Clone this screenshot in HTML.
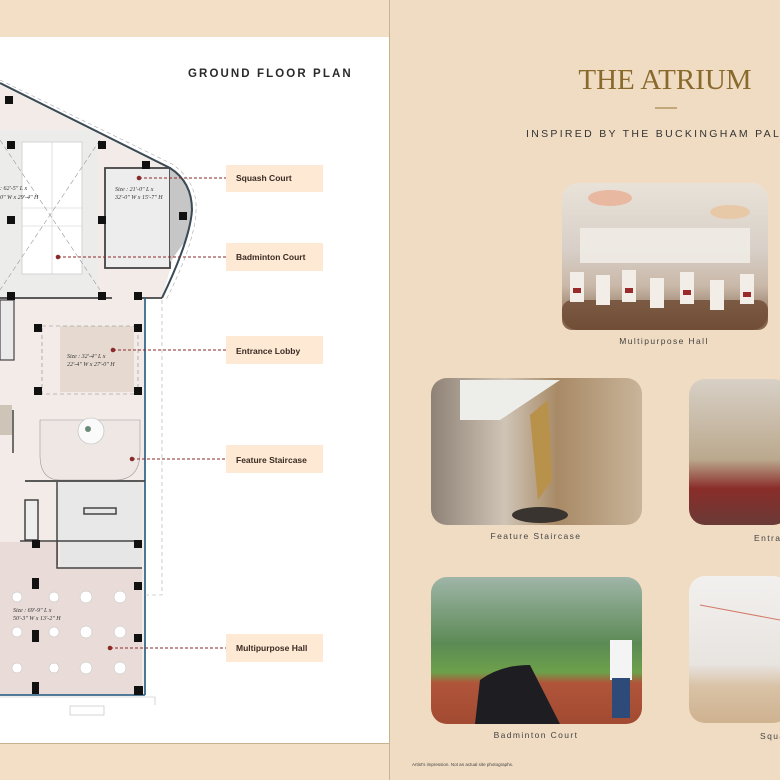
<!DOCTYPE html>
<html><head><meta charset="utf-8"><style>
html,body{margin:0;padding:0;width:780px;height:780px;overflow:hidden;background:#f1dec5}
svg{display:block}
.lbl{font-family:"Liberation Sans",sans-serif;font-size:8.5px;fill:#3a2a22;font-weight:bold}
.cap{font-family:"Liberation Sans",sans-serif;font-size:8.5px;fill:#444;letter-spacing:1.4px}
.sz{font-family:"Liberation Serif",serif;font-style:italic;font-size:6px;fill:#333}
</style></head><body>
<svg width="780" height="780" viewBox="0 0 780 780" xmlns="http://www.w3.org/2000/svg">
<defs>
<linearGradient id="hall" x1="0" y1="0" x2="0" y2="1"><stop offset="0" stop-color="#e9e2d8"/><stop offset="0.45" stop-color="#d8d0c8"/><stop offset="0.7" stop-color="#c9b8a8"/><stop offset="1" stop-color="#7a5a42"/></linearGradient>
<linearGradient id="stair" x1="0" y1="0" x2="1" y2="0"><stop offset="0" stop-color="#8e8276"/><stop offset="0.35" stop-color="#cfc4b6"/><stop offset="0.6" stop-color="#a88a66"/><stop offset="1" stop-color="#c9b49a"/></linearGradient>
<linearGradient id="badm" x1="0" y1="0" x2="0" y2="1"><stop offset="0" stop-color="#9fb5a8"/><stop offset="0.45" stop-color="#5c8a55"/><stop offset="0.65" stop-color="#6da04a"/><stop offset="0.72" stop-color="#b0553a"/><stop offset="1" stop-color="#a24a32"/></linearGradient>
<linearGradient id="entr" x1="0" y1="0" x2="0" y2="1"><stop offset="0" stop-color="#d8d0c6"/><stop offset="0.55" stop-color="#bba98e"/><stop offset="0.75" stop-color="#8a2d2a"/><stop offset="1" stop-color="#6a3a36"/></linearGradient>
<linearGradient id="squ" x1="0" y1="0" x2="0" y2="1"><stop offset="0" stop-color="#f2f0ee"/><stop offset="0.6" stop-color="#e8e4e0"/><stop offset="0.75" stop-color="#d9c2a6"/><stop offset="1" stop-color="#cfb290"/></linearGradient>
</defs>
<rect x="0" y="0" width="390" height="780" fill="#f3dfc6"/>
<rect x="0" y="37" width="389" height="707" fill="#ffffff"/>
<line x1="389.5" y1="0" x2="389.5" y2="780" stroke="#c9b290" stroke-width="1"/>
<line x1="0" y1="743.5" x2="389" y2="743.5" stroke="#c9b290" stroke-width="1"/>
<text x="188" y="77" font-family="Liberation Sans,sans-serif" font-size="11.5" font-weight="bold" letter-spacing="2.1" fill="#2a2a2a">GROUND FLOOR PLAN</text>

<g>
<polygon points="0,83 170,168 190,200 162,298 145,298 145,695 0,695" fill="#f3ebe8"/>
<rect x="0" y="130" width="98" height="168" fill="#ececea"/>
<rect x="22" y="142" width="60" height="132" fill="#fff" stroke="#ccc" stroke-width="0.8"/>
<line x1="52" y1="142" x2="52" y2="274" stroke="#ccc" stroke-width="0.6"/>
<line x1="22" y1="208" x2="82" y2="208" stroke="#ccc" stroke-width="0.6"/>
<line x1="22" y1="226" x2="82" y2="226" stroke="#ccc" stroke-width="0.6"/>
<line x1="0" y1="140" x2="100" y2="290" stroke="#999" stroke-width="0.6" stroke-dasharray="5,3"/>
<line x1="100" y1="140" x2="0" y2="290" stroke="#999" stroke-width="0.6" stroke-dasharray="5,3"/>
<rect x="105" y="168" width="65" height="100" fill="#ededed" stroke="#444" stroke-width="1.8"/>
<path d="M170,168 Q188,178 192,200 Q192,225 186,240 L170,262 Z" fill="#c6c6c6"/>
<path d="M0,83 L170,168 Q192,182 192,210 Q190,240 162,298" fill="none" stroke="#3a4a55" stroke-width="2"/>
<path d="M0,80 L172,164 Q198,182 196,212 Q194,245 166,300" fill="none" stroke="#aaa" stroke-width="0.6" stroke-dasharray="4,3"/>
<line x1="0" y1="298" x2="112" y2="298" stroke="#444" stroke-width="1.8"/>
<line x1="137" y1="298" x2="162" y2="298" stroke="#444" stroke-width="1.8"/>
<line x1="145" y1="298" x2="145" y2="695" stroke="#3a6a8a" stroke-width="1.8"/>
<polyline points="162,300 162,595 145,595" fill="none" stroke="#aaa" stroke-width="0.6" stroke-dasharray="4,3"/>
<rect x="0" y="300" width="14" height="60" fill="#eaeaea" stroke="#444" stroke-width="1.2"/>
<rect x="0" y="405" width="12" height="30" fill="#cfc4b8"/>
<line x1="13" y1="410" x2="13" y2="453" stroke="#444" stroke-width="1.5"/>
<rect x="60" y="326" width="74" height="66" fill="#e6dad0"/>
<rect x="42" y="326" width="96" height="68" fill="none" stroke="#888" stroke-width="0.6" stroke-dasharray="4,3"/>
<path d="M40,420 L140,420 L140,452 Q140,480 115,480 L60,480 Q40,480 40,455 Z" fill="#efe7e4" stroke="#999" stroke-width="0.6"/>
<circle cx="91" cy="431" r="13" fill="#fafafa" stroke="#bbb" stroke-width="0.6"/>
<circle cx="88" cy="429" r="3" fill="#6a8a78"/>
<line x1="25" y1="481" x2="145" y2="481" stroke="#444" stroke-width="1.8"/>
<rect x="57" y="482" width="85" height="60" fill="#e8e8e8"/>
<rect x="84" y="508" width="32" height="6" fill="none" stroke="#444" stroke-width="1.5"/>
<line x1="57" y1="482" x2="57" y2="565" stroke="#444" stroke-width="1.5"/>
<line x1="20" y1="541" x2="142" y2="541" stroke="#444" stroke-width="1.5"/>
<rect x="25" y="500" width="13" height="40" fill="#eee" stroke="#444" stroke-width="1.5"/>
<rect x="60" y="542" width="82" height="26" fill="#e6e6e6"/>
<polygon points="0,542 57,542 57,568 142,568 142,695 0,695" fill="#e9dcd8"/>
<polyline points="57,542 57,568 142,568" fill="none" stroke="#444" stroke-width="1.5"/>
<line x1="0" y1="695" x2="145" y2="695" stroke="#3a6a8a" stroke-width="1.8"/>
<polyline points="0,697 155,697 155,705" fill="none" stroke="#bbb" stroke-width="0.6"/>
<rect x="70" y="706" width="34" height="9" fill="none" stroke="#bbb" stroke-width="0.6"/>
<g fill="#fff" stroke="#bbb" stroke-width="0.5">
<circle cx="17" cy="597" r="5"/><circle cx="54" cy="597" r="5"/><circle cx="86" cy="597" r="6"/><circle cx="120" cy="597" r="6"/>
<circle cx="17" cy="632" r="5"/><circle cx="54" cy="632" r="5"/><circle cx="86" cy="632" r="6"/><circle cx="120" cy="632" r="6"/>
<circle cx="17" cy="668" r="5"/><circle cx="54" cy="668" r="5"/><circle cx="86" cy="668" r="6"/><circle cx="120" cy="668" r="6"/>
</g>
<g fill="#111">
<rect x="5" y="96" width="8" height="8"/><rect x="7" y="141" width="8" height="8"/><rect x="98" y="141" width="8" height="8"/><rect x="142" y="161" width="8" height="8"/>
<rect x="7" y="216" width="8" height="8"/><rect x="98" y="216" width="8" height="8"/><rect x="179" y="212" width="8" height="8"/>
<rect x="7" y="292" width="8" height="8"/><rect x="98" y="292" width="8" height="8"/><rect x="134" y="292" width="8" height="8"/>
<rect x="34" y="324" width="8" height="8"/><rect x="134" y="324" width="8" height="8"/><rect x="34" y="387" width="8" height="8"/><rect x="134" y="387" width="8" height="8"/>
<rect x="32" y="540" width="8" height="8"/><rect x="134" y="540" width="8" height="8"/><rect x="134" y="582" width="8" height="8"/>
<rect x="32" y="578" width="7" height="11"/><rect x="32" y="630" width="7" height="12"/><rect x="32" y="682" width="7" height="12"/>
<rect x="134" y="634" width="8" height="8"/><rect x="134" y="686" width="9" height="9"/>
</g>
<text x="0" y="190" class="sz">: 62'-5" L x</text><text x="0" y="199" class="sz">0" W x 29'-4" H</text>
<text x="115" y="191" class="sz">Size : 21'-0" L x</text><text x="115" y="199" class="sz">32'-0" W x 15'-7" H</text>
<text x="67" y="358" class="sz">Size : 32'-4" L x</text><text x="67" y="366" class="sz">22'-4" W x 27'-0" H</text>
<text x="13" y="612" class="sz">Size : 69'-9" L x</text><text x="13" y="620" class="sz">50'-3" W x 13'-2" H</text>
</g>

<g stroke="#8a2a2a" stroke-width="1" stroke-dasharray="3,2">
<line x1="139" y1="178" x2="226" y2="178"/><line x1="58" y1="257" x2="226" y2="257"/><line x1="113" y1="350" x2="226" y2="350"/><line x1="132" y1="459" x2="226" y2="459"/><line x1="110" y1="648" x2="226" y2="648"/>
</g>
<g fill="#8a2a2a"><circle cx="139" cy="178" r="2.3"/><circle cx="58" cy="257" r="2.3"/><circle cx="113" cy="350" r="2.3"/><circle cx="132" cy="459" r="2.3"/><circle cx="110" cy="648" r="2.3"/></g>
<g fill="#fde9d4">
<rect x="226" y="165" width="97" height="27"/><rect x="226" y="243" width="97" height="28"/><rect x="226" y="336" width="97" height="28"/><rect x="226" y="445" width="97" height="28"/><rect x="226" y="634" width="97" height="28"/>
</g>
<text x="236" y="181" class="lbl">Squash Court</text>
<text x="236" y="260" class="lbl">Badminton Court</text>
<text x="236" y="354" class="lbl">Entrance Lobby</text>
<text x="236" y="463" class="lbl">Feature Staircase</text>
<text x="236" y="651" class="lbl">Multipurpose Hall</text>

<rect x="390" y="0" width="390" height="780" fill="#f0dcc2"/>
<text x="665" y="89" text-anchor="middle" font-family="Liberation Serif,serif" font-size="29" fill="#8a6a2c">THE ATRIUM</text>
<line x1="655" y1="108" x2="677" y2="108" stroke="#a88a50" stroke-width="1.2"/>
<text x="526" y="137" font-family="Liberation Sans,sans-serif" font-size="10.5" letter-spacing="2.3" fill="#333">INSPIRED BY THE BUCKINGHAM PALACE</text>

<rect x="562" y="183" width="206" height="147" rx="16" fill="url(#hall)"/>
<ellipse cx="610" cy="198" rx="22" ry="8" fill="#e8b8a0"/><ellipse cx="730" cy="212" rx="20" ry="7" fill="#e7c9a8"/>
<rect x="580" y="228" width="170" height="35" fill="#f0ece6" opacity="0.9"/>
<rect x="562" y="300" width="206" height="30" rx="10" fill="#6e4a32" opacity="0.8"/>
<g fill="#f2ede6"><rect x="570" y="272" width="14" height="30"/><rect x="596" y="275" width="14" height="30"/><rect x="622" y="270" width="14" height="32"/><rect x="650" y="278" width="14" height="30"/><rect x="680" y="272" width="14" height="32"/><rect x="710" y="280" width="14" height="30"/><rect x="740" y="274" width="14" height="30"/></g>
<g fill="#9a2a2a"><rect x="573" y="288" width="8" height="5"/><rect x="625" y="288" width="8" height="5"/><rect x="683" y="290" width="8" height="5"/><rect x="743" y="292" width="8" height="5"/></g>
<text x="664" y="344" text-anchor="middle" class="cap">Multipurpose Hall</text>

<rect x="431" y="378" width="211" height="147" rx="16" fill="url(#stair)"/>
<path d="M460,380 L560,380 L500,420 L460,420 Z" fill="#ededea"/>
<path d="M530,415 L548,400 L552,480 L538,500 Z" fill="#b8914a"/>
<ellipse cx="540" cy="515" rx="28" ry="8" fill="#3a3430"/>
<text x="536" y="539" text-anchor="middle" class="cap">Feature Staircase</text>

<rect x="689" y="379" width="100" height="146" rx="16" fill="url(#entr)"/>
<text x="754" y="541" class="cap">Entrance Lobby</text>

<rect x="431" y="577" width="211" height="147" rx="16" fill="url(#badm)"/>
<path d="M480,680 Q500,665 530,665 L560,724 L475,724 Z" fill="#1e1e22"/>
<rect x="610" y="640" width="22" height="40" fill="#f4f4f4"/><rect x="612" y="678" width="18" height="40" fill="#2d4a78"/>
<text x="536" y="738" text-anchor="middle" class="cap">Badminton Court</text>

<rect x="689" y="576" width="100" height="147" rx="16" fill="url(#squ)"/>
<line x1="700" y1="605" x2="780" y2="620" stroke="#d47a6a" stroke-width="1"/>
<text x="760" y="739" class="cap">Squash Court</text>

<text x="412" y="766" font-family="Liberation Sans,sans-serif" font-size="4.5" fill="#444">Artist's impression. Not an actual site photographs.</text>
</svg>
</body></html>
